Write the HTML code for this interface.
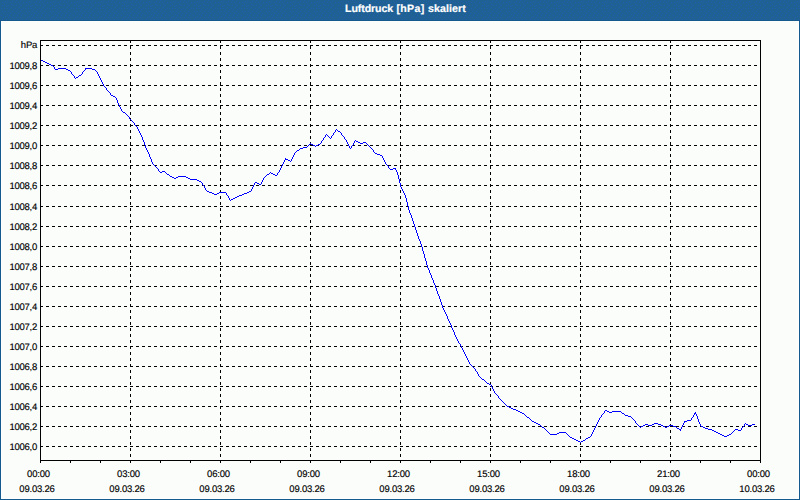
<!DOCTYPE html>
<html><head><meta charset="utf-8">
<style>
html,body{margin:0;padding:0;}
body{width:800px;height:500px;position:relative;overflow:hidden;background:#fbfdfb;font-family:"Liberation Sans",sans-serif;}
#title{position:absolute;left:0;top:0;width:800px;height:20px;background:#1e6094;}
#tline{position:absolute;left:0;top:20px;width:800px;height:1px;background:#165a8e;}
#inner{position:absolute;left:1px;top:21px;width:796px;height:477px;border:1px solid #fff;border-top:none;}
#bl{position:absolute;left:0;top:20px;width:1px;height:480px;background:#145a8e;}
#br{position:absolute;left:799px;top:20px;width:1px;height:480px;background:#145a8e;}
#bb{position:absolute;left:0;top:499px;width:800px;height:1px;background:#145a8e;}
.tt{position:absolute;top:1.5px;color:#fff;font-weight:bold;font-size:10.6px;text-rendering:geometricPrecision;-webkit-text-stroke:0.2px #fff;line-height:14px;white-space:nowrap;}
svg{position:absolute;left:0;top:0;}
.g{stroke:#000;stroke-width:1;stroke-dasharray:3 3;shape-rendering:crispEdges;}
.b{stroke:#000;stroke-width:1;fill:none;shape-rendering:crispEdges;}
.d{stroke:#0000ff;stroke-width:1;fill:none;shape-rendering:crispEdges;}
.yl{position:absolute;right:763px;letter-spacing:-0.25px;font-size:9.5px;text-rendering:geometricPrecision;-webkit-text-stroke:0.15px #000;line-height:12px;color:#000;white-space:nowrap;}
.xl{position:absolute;width:120px;letter-spacing:-0.2px;text-align:center;font-size:9.5px;text-rendering:geometricPrecision;-webkit-text-stroke:0.15px #000;line-height:12px;color:#000;white-space:nowrap;}
</style></head><body>
<div id="title"></div><div id="tline"></div>
<div id="inner"></div><div id="bl"></div><div id="br"></div><div id="bb"></div>
<svg width="800" height="500" viewBox="0 0 800 500">
<defs><pattern id="dith" width="24" height="20" patternUnits="userSpaceOnUse"><rect width="24" height="20" fill="#1e6192"/><path d="M16 0h1v1h-1zM5 1h1v1h-1zM12 1h1v1h-1zM20 1h1v1h-1zM2 2h1v1h-1zM7 2h1v1h-1zM10 2h1v1h-1zM15 2h1v1h-1zM18 2h1v1h-1zM23 2h1v1h-1zM4 4h1v1h-1zM11 4h1v1h-1zM19 4h1v1h-1zM2 5h1v1h-1zM8 5h1v1h-1zM13 5h1v1h-1zM16 5h1v1h-1zM21 5h1v1h-1zM6 6h1v1h-1zM11 7h1v1h-1zM19 7h1v1h-1zM1 8h1v1h-1zM4 8h1v1h-1zM7 8h1v1h-1zM15 8h1v1h-1zM23 8h1v1h-1zM9 9h1v1h-1zM13 9h1v1h-1zM17 9h1v1h-1zM21 9h1v1h-1zM2 11h1v1h-1zM5 11h1v1h-1zM8 11h1v1h-1zM12 11h1v1h-1zM16 11h1v1h-1zM20 11h1v1h-1zM3 13h1v1h-1zM10 13h1v1h-1zM14 13h1v1h-1zM18 13h1v1h-1zM22 13h1v1h-1zM7 14h1v1h-1zM1 15h1v1h-1zM9 15h1v1h-1zM13 15h1v1h-1zM17 15h1v1h-1zM21 15h1v1h-1zM5 16h1v1h-1zM3 17h1v1h-1zM8 17h1v1h-1zM12 17h1v1h-1zM16 17h1v1h-1zM20 17h1v1h-1zM2 19h1v1h-1zM6 19h1v1h-1zM10 19h1v1h-1zM14 19h1v1h-1zM18 19h1v1h-1zM22 19h1v1h-1z" fill="#225daf"/></pattern></defs>
<rect x="0" y="0" width="800" height="20" fill="url(#dith)" shape-rendering="crispEdges"/>
<line x1="40" y1="45.5" x2="760" y2="45.5" class="g"/>
<line x1="40" y1="65.5" x2="760" y2="65.5" class="g"/>
<line x1="40" y1="85.5" x2="760" y2="85.5" class="g"/>
<line x1="40" y1="105.5" x2="760" y2="105.5" class="g"/>
<line x1="40" y1="125.5" x2="760" y2="125.5" class="g"/>
<line x1="40" y1="145.5" x2="760" y2="145.5" class="g"/>
<line x1="40" y1="165.5" x2="760" y2="165.5" class="g"/>
<line x1="40" y1="185.5" x2="760" y2="185.5" class="g"/>
<line x1="40" y1="206.5" x2="760" y2="206.5" class="g"/>
<line x1="40" y1="226.5" x2="760" y2="226.5" class="g"/>
<line x1="40" y1="246.5" x2="760" y2="246.5" class="g"/>
<line x1="40" y1="266.5" x2="760" y2="266.5" class="g"/>
<line x1="40" y1="286.5" x2="760" y2="286.5" class="g"/>
<line x1="40" y1="306.5" x2="760" y2="306.5" class="g"/>
<line x1="40" y1="326.5" x2="760" y2="326.5" class="g"/>
<line x1="40" y1="346.5" x2="760" y2="346.5" class="g"/>
<line x1="40" y1="366.5" x2="760" y2="366.5" class="g"/>
<line x1="40" y1="386.5" x2="760" y2="386.5" class="g"/>
<line x1="40" y1="406.5" x2="760" y2="406.5" class="g"/>
<line x1="40" y1="426.5" x2="760" y2="426.5" class="g"/>
<line x1="40" y1="446.5" x2="760" y2="446.5" class="g"/>
<line x1="130.5" y1="40" x2="130.5" y2="460" class="g"/>
<line x1="220.5" y1="40" x2="220.5" y2="460" class="g"/>
<line x1="310.5" y1="40" x2="310.5" y2="460" class="g"/>
<line x1="400.5" y1="40" x2="400.5" y2="460" class="g"/>
<line x1="490.5" y1="40" x2="490.5" y2="460" class="g"/>
<line x1="580.5" y1="40" x2="580.5" y2="460" class="g"/>
<line x1="670.5" y1="40" x2="670.5" y2="460" class="g"/>
<path d="M40.5,40.5H760.5V460.5H40.5Z" class="b"/>
<path d="M40.5,460V463" class="b"/>
<path d="M70.5,460V463" class="b"/>
<path d="M100.5,460V463" class="b"/>
<path d="M130.5,460V463" class="b"/>
<path d="M160.5,460V463" class="b"/>
<path d="M190.5,460V463" class="b"/>
<path d="M220.5,460V463" class="b"/>
<path d="M250.5,460V463" class="b"/>
<path d="M280.5,460V463" class="b"/>
<path d="M310.5,460V463" class="b"/>
<path d="M340.5,460V463" class="b"/>
<path d="M370.5,460V463" class="b"/>
<path d="M400.5,460V463" class="b"/>
<path d="M430.5,460V463" class="b"/>
<path d="M460.5,460V463" class="b"/>
<path d="M490.5,460V463" class="b"/>
<path d="M520.5,460V463" class="b"/>
<path d="M550.5,460V463" class="b"/>
<path d="M580.5,460V463" class="b"/>
<path d="M610.5,460V463" class="b"/>
<path d="M640.5,460V463" class="b"/>
<path d="M670.5,460V463" class="b"/>
<path d="M700.5,460V463" class="b"/>
<path d="M730.5,460V463" class="b"/>
<path d="M760.5,460V463" class="b"/>
<path d="M41 60h2v1h-2zM43 61h2v1h-2zM45 62h2v1h-2zM47 63h2v1h-2zM49 64h2v1h-2zM51 65h2v1h-2zM53 66h1v1h-1zM54 67h1v1h-1zM54 68h1v1h-1zM58 68h8v1h-8zM85 68h7v1h-7zM55 69h3v1h-3zM66 69h2v1h-2zM85 69h1v1h-1zM92 69h3v1h-3zM68 70h2v1h-2zM84 70h1v1h-1zM95 70h1v1h-1zM70 71h1v1h-1zM83 71h1v1h-1zM96 71h1v1h-1zM71 72h1v1h-1zM82 72h1v1h-1zM97 72h1v1h-1zM71 73h1v1h-1zM82 73h1v1h-1zM97 73h1v1h-1zM72 74h1v1h-1zM81 74h1v1h-1zM98 74h1v1h-1zM73 75h1v1h-1zM79 75h2v1h-2zM98 75h1v1h-1zM74 76h1v1h-1zM78 76h1v1h-1zM99 76h1v1h-1zM74 77h1v1h-1zM76 77h2v1h-2zM99 77h1v1h-1zM75 78h1v1h-1zM100 78h1v1h-1zM100 79h1v1h-1zM101 80h1v1h-1zM101 81h1v1h-1zM102 82h1v1h-1zM102 83h1v1h-1zM103 84h1v1h-1zM103 85h1v1h-1zM104 86h1v1h-1zM105 87h1v1h-1zM106 88h1v1h-1zM106 89h1v1h-1zM107 90h1v1h-1zM108 91h1v1h-1zM109 92h1v1h-1zM110 93h1v1h-1zM110 94h1v1h-1zM111 95h2v1h-2zM113 96h2v1h-2zM115 97h1v1h-1zM116 98h1v1h-1zM116 99h1v1h-1zM117 100h1v1h-1zM117 101h1v1h-1zM117 102h1v1h-1zM118 103h1v1h-1zM118 104h1v1h-1zM119 105h1v1h-1zM119 106h1v1h-1zM120 107h1v1h-1zM120 108h1v1h-1zM121 109h1v1h-1zM121 110h1v1h-1zM122 111h1v1h-1zM123 112h2v1h-2zM125 113h1v1h-1zM126 114h1v1h-1zM127 115h1v1h-1zM128 116h1v1h-1zM129 117h1v1h-1zM129 118h1v1h-1zM130 119h1v1h-1zM131 120h1v1h-1zM132 121h1v1h-1zM133 122h1v1h-1zM134 123h1v1h-1zM134 124h1v1h-1zM135 125h1v1h-1zM136 126h1v1h-1zM137 127h1v1h-1zM137 128h1v1h-1zM138 129h1v1h-1zM336 129h1v1h-1zM138 130h1v1h-1zM335 130h1v1h-1zM337 130h1v1h-1zM139 131h1v1h-1zM335 131h1v1h-1zM338 131h2v1h-2zM139 132h1v1h-1zM334 132h1v1h-1zM340 132h1v1h-1zM140 133h1v1h-1zM333 133h1v1h-1zM341 133h1v1h-1zM140 134h1v1h-1zM326 134h1v1h-1zM333 134h1v1h-1zM341 134h1v1h-1zM141 135h1v1h-1zM325 135h1v1h-1zM327 135h1v1h-1zM332 135h1v1h-1zM342 135h1v1h-1zM141 136h1v1h-1zM325 136h1v1h-1zM328 136h1v1h-1zM331 136h1v1h-1zM343 136h1v1h-1zM142 137h1v1h-1zM324 137h1v1h-1zM329 137h1v1h-1zM331 137h1v1h-1zM344 137h1v1h-1zM142 138h1v1h-1zM323 138h1v1h-1zM330 138h1v1h-1zM344 138h1v1h-1zM142 139h1v1h-1zM323 139h1v1h-1zM345 139h1v1h-1zM143 140h1v1h-1zM322 140h1v1h-1zM346 140h1v1h-1zM355 140h1v1h-1zM143 141h1v1h-1zM321 141h1v1h-1zM346 141h1v1h-1zM354 141h1v1h-1zM356 141h2v1h-2zM144 142h1v1h-1zM321 142h1v1h-1zM347 142h1v1h-1zM354 142h1v1h-1zM358 142h2v1h-2zM363 142h3v1h-3zM144 143h1v1h-1zM310 143h1v1h-1zM320 143h1v1h-1zM347 143h1v1h-1zM353 143h1v1h-1zM360 143h3v1h-3zM366 143h1v1h-1zM144 144h1v1h-1zM309 144h1v1h-1zM311 144h2v1h-2zM318 144h2v1h-2zM348 144h1v1h-1zM353 144h1v1h-1zM367 144h1v1h-1zM145 145h1v1h-1zM308 145h1v1h-1zM313 145h2v1h-2zM316 145h2v1h-2zM348 145h1v1h-1zM352 145h1v1h-1zM368 145h1v1h-1zM145 146h1v1h-1zM307 146h1v1h-1zM315 146h1v1h-1zM349 146h1v1h-1zM351 146h1v1h-1zM369 146h1v1h-1zM145 147h1v1h-1zM303 147h4v1h-4zM349 147h1v1h-1zM351 147h1v1h-1zM370 147h1v1h-1zM146 148h1v1h-1zM300 148h3v1h-3zM350 148h1v1h-1zM371 148h1v1h-1zM146 149h1v1h-1zM299 149h1v1h-1zM372 149h1v1h-1zM147 150h1v1h-1zM297 150h2v1h-2zM373 150h1v1h-1zM147 151h1v1h-1zM296 151h1v1h-1zM373 151h1v1h-1zM148 152h1v1h-1zM295 152h1v1h-1zM374 152h1v1h-1zM148 153h1v1h-1zM294 153h1v1h-1zM375 153h2v1h-2zM149 154h1v1h-1zM294 154h1v1h-1zM377 154h3v1h-3zM149 155h1v1h-1zM293 155h1v1h-1zM380 155h2v1h-2zM149 156h1v1h-1zM293 156h1v1h-1zM382 156h1v1h-1zM150 157h1v1h-1zM292 157h1v1h-1zM382 157h1v1h-1zM150 158h1v1h-1zM285 158h1v1h-1zM292 158h1v1h-1zM383 158h1v1h-1zM151 159h1v1h-1zM285 159h3v1h-3zM291 159h1v1h-1zM383 159h1v1h-1zM151 160h1v1h-1zM284 160h1v1h-1zM288 160h2v1h-2zM291 160h1v1h-1zM384 160h1v1h-1zM151 161h1v1h-1zM284 161h1v1h-1zM290 161h1v1h-1zM384 161h1v1h-1zM152 162h1v1h-1zM283 162h1v1h-1zM385 162h1v1h-1zM152 163h1v1h-1zM283 163h1v1h-1zM385 163h1v1h-1zM153 164h1v1h-1zM282 164h1v1h-1zM386 164h1v1h-1zM154 165h1v1h-1zM282 165h1v1h-1zM387 165h1v1h-1zM155 166h1v1h-1zM281 166h1v1h-1zM388 166h1v1h-1zM156 167h1v1h-1zM281 167h1v1h-1zM388 167h1v1h-1zM157 168h1v1h-1zM280 168h1v1h-1zM389 168h1v1h-1zM393 168h3v1h-3zM158 169h1v1h-1zM280 169h1v1h-1zM390 169h3v1h-3zM395 169h1v1h-1zM158 170h1v1h-1zM279 170h1v1h-1zM396 170h1v1h-1zM159 171h1v1h-1zM162 171h3v1h-3zM279 171h1v1h-1zM396 171h1v1h-1zM160 172h2v1h-2zM165 172h1v1h-1zM270 172h1v1h-1zM278 172h1v1h-1zM397 172h1v1h-1zM166 173h1v1h-1zM269 173h1v1h-1zM271 173h2v1h-2zM277 173h1v1h-1zM397 173h1v1h-1zM167 174h2v1h-2zM267 174h2v1h-2zM273 174h2v1h-2zM277 174h1v1h-1zM397 174h1v1h-1zM169 175h1v1h-1zM266 175h1v1h-1zM275 175h2v1h-2zM398 175h1v1h-1zM170 176h2v1h-2zM178 176h8v1h-8zM265 176h1v1h-1zM398 176h1v1h-1zM172 177h2v1h-2zM176 177h2v1h-2zM186 177h2v1h-2zM264 177h1v1h-1zM398 177h1v1h-1zM174 178h2v1h-2zM188 178h2v1h-2zM263 178h1v1h-1zM398 178h1v1h-1zM190 179h7v1h-7zM263 179h1v1h-1zM399 179h1v1h-1zM197 180h2v1h-2zM262 180h1v1h-1zM399 180h1v1h-1zM199 181h2v1h-2zM262 181h1v1h-1zM399 181h1v1h-1zM201 182h1v1h-1zM255 182h2v1h-2zM261 182h1v1h-1zM399 182h1v1h-1zM202 183h1v1h-1zM254 183h1v1h-1zM257 183h2v1h-2zM261 183h1v1h-1zM400 183h1v1h-1zM202 184h1v1h-1zM254 184h1v1h-1zM259 184h2v1h-2zM400 184h1v1h-1zM203 185h1v1h-1zM253 185h1v1h-1zM400 185h1v1h-1zM204 186h1v1h-1zM253 186h1v1h-1zM400 186h1v1h-1zM204 187h1v1h-1zM252 187h1v1h-1zM401 187h1v1h-1zM205 188h1v1h-1zM252 188h1v1h-1zM401 188h1v1h-1zM205 189h1v1h-1zM251 189h1v1h-1zM402 189h1v1h-1zM206 190h1v1h-1zM251 190h1v1h-1zM402 190h1v1h-1zM207 191h2v1h-2zM249 191h2v1h-2zM403 191h1v1h-1zM209 192h3v1h-3zM219 192h7v1h-7zM247 192h2v1h-2zM403 192h1v1h-1zM212 193h2v1h-2zM217 193h2v1h-2zM226 193h1v1h-1zM244 193h3v1h-3zM404 193h1v1h-1zM214 194h3v1h-3zM226 194h1v1h-1zM242 194h2v1h-2zM404 194h1v1h-1zM227 195h1v1h-1zM239 195h3v1h-3zM405 195h1v1h-1zM228 196h1v1h-1zM237 196h2v1h-2zM405 196h1v1h-1zM228 197h1v1h-1zM235 197h2v1h-2zM405 197h1v1h-1zM229 198h1v1h-1zM233 198h2v1h-2zM406 198h1v1h-1zM229 199h1v1h-1zM231 199h2v1h-2zM406 199h1v1h-1zM230 200h1v1h-1zM406 200h1v1h-1zM406 201h1v1h-1zM407 202h1v1h-1zM407 203h1v1h-1zM407 204h1v1h-1zM407 205h1v1h-1zM408 206h1v1h-1zM408 207h1v1h-1zM408 208h1v1h-1zM408 209h1v1h-1zM409 210h1v1h-1zM409 211h1v1h-1zM409 212h1v1h-1zM410 213h1v1h-1zM410 214h1v1h-1zM411 215h1v1h-1zM411 216h1v1h-1zM411 217h1v1h-1zM412 218h1v1h-1zM412 219h1v1h-1zM412 220h1v1h-1zM413 221h1v1h-1zM413 222h1v1h-1zM413 223h1v1h-1zM414 224h1v1h-1zM414 225h1v1h-1zM414 226h1v1h-1zM415 227h1v1h-1zM415 228h1v1h-1zM415 229h1v1h-1zM416 230h1v1h-1zM416 231h1v1h-1zM416 232h1v1h-1zM417 233h1v1h-1zM417 234h1v1h-1zM417 235h1v1h-1zM418 236h1v1h-1zM418 237h1v1h-1zM418 238h1v1h-1zM419 239h1v1h-1zM419 240h1v1h-1zM420 241h1v1h-1zM420 242h1v1h-1zM420 243h1v1h-1zM421 244h1v1h-1zM421 245h1v1h-1zM421 246h1v1h-1zM422 247h1v1h-1zM422 248h1v1h-1zM422 249h1v1h-1zM422 250h1v1h-1zM423 251h1v1h-1zM423 252h1v1h-1zM423 253h1v1h-1zM424 254h1v1h-1zM424 255h1v1h-1zM424 256h1v1h-1zM424 257h1v1h-1zM425 258h1v1h-1zM425 259h1v1h-1zM425 260h1v1h-1zM426 261h1v1h-1zM426 262h1v1h-1zM426 263h1v1h-1zM426 264h1v1h-1zM427 265h1v1h-1zM427 266h1v1h-1zM427 267h1v1h-1zM428 268h1v1h-1zM428 269h1v1h-1zM429 270h1v1h-1zM429 271h1v1h-1zM429 272h1v1h-1zM430 273h1v1h-1zM430 274h1v1h-1zM431 275h1v1h-1zM431 276h1v1h-1zM431 277h1v1h-1zM432 278h1v1h-1zM432 279h1v1h-1zM433 280h1v1h-1zM433 281h1v1h-1zM433 282h1v1h-1zM434 283h1v1h-1zM434 284h1v1h-1zM435 285h1v1h-1zM435 286h1v1h-1zM435 287h1v1h-1zM436 288h1v1h-1zM436 289h1v1h-1zM436 290h1v1h-1zM437 291h1v1h-1zM437 292h1v1h-1zM437 293h1v1h-1zM438 294h1v1h-1zM438 295h1v1h-1zM439 296h1v1h-1zM439 297h1v1h-1zM439 298h1v1h-1zM440 299h1v1h-1zM440 300h1v1h-1zM440 301h1v1h-1zM441 302h1v1h-1zM441 303h1v1h-1zM441 304h1v1h-1zM442 305h1v1h-1zM442 306h1v1h-1zM442 307h1v1h-1zM443 308h1v1h-1zM443 309h1v1h-1zM444 310h1v1h-1zM444 311h1v1h-1zM445 312h1v1h-1zM445 313h1v1h-1zM446 314h1v1h-1zM446 315h1v1h-1zM447 316h1v1h-1zM447 317h1v1h-1zM447 318h1v1h-1zM448 319h1v1h-1zM448 320h1v1h-1zM449 321h1v1h-1zM449 322h1v1h-1zM450 323h1v1h-1zM450 324h1v1h-1zM451 325h1v1h-1zM451 326h1v1h-1zM451 327h1v1h-1zM452 328h1v1h-1zM452 329h1v1h-1zM453 330h1v1h-1zM453 331h1v1h-1zM454 332h1v1h-1zM454 333h1v1h-1zM454 334h1v1h-1zM455 335h1v1h-1zM455 336h1v1h-1zM456 337h1v1h-1zM456 338h1v1h-1zM457 339h1v1h-1zM457 340h1v1h-1zM458 341h1v1h-1zM458 342h1v1h-1zM459 343h1v1h-1zM460 344h1v1h-1zM460 345h1v1h-1zM461 346h1v1h-1zM461 347h1v1h-1zM462 348h1v1h-1zM462 349h1v1h-1zM463 350h1v1h-1zM463 351h1v1h-1zM464 352h1v1h-1zM464 353h1v1h-1zM465 354h1v1h-1zM465 355h1v1h-1zM466 356h1v1h-1zM466 357h1v1h-1zM467 358h1v1h-1zM467 359h1v1h-1zM468 360h1v1h-1zM468 361h1v1h-1zM469 362h1v1h-1zM469 363h1v1h-1zM470 364h1v1h-1zM471 365h1v1h-1zM472 366h1v1h-1zM473 367h1v1h-1zM474 368h1v1h-1zM475 369h1v1h-1zM475 370h1v1h-1zM476 371h1v1h-1zM477 372h1v1h-1zM477 373h1v1h-1zM478 374h1v1h-1zM478 375h1v1h-1zM479 376h1v1h-1zM480 377h1v1h-1zM481 378h1v1h-1zM482 379h2v1h-2zM484 380h1v1h-1zM485 381h1v1h-1zM486 382h1v1h-1zM487 383h2v1h-2zM489 384h2v1h-2zM491 385h1v1h-1zM491 386h1v1h-1zM492 387h1v1h-1zM492 388h1v1h-1zM493 389h1v1h-1zM493 390h1v1h-1zM494 391h1v1h-1zM494 392h1v1h-1zM495 393h1v1h-1zM496 394h1v1h-1zM497 395h1v1h-1zM498 396h1v1h-1zM498 397h1v1h-1zM499 398h1v1h-1zM500 399h1v1h-1zM501 400h1v1h-1zM502 401h1v1h-1zM503 402h1v1h-1zM504 403h1v1h-1zM505 404h1v1h-1zM506 405h1v1h-1zM507 406h2v1h-2zM509 407h2v1h-2zM511 408h2v1h-2zM513 409h3v1h-3zM516 410h2v1h-2zM605 410h2v1h-2zM518 411h2v1h-2zM604 411h1v1h-1zM607 411h2v1h-2zM612 411h9v1h-9zM520 412h2v1h-2zM604 412h1v1h-1zM609 412h3v1h-3zM621 412h1v1h-1zM695 412h1v1h-1zM522 413h2v1h-2zM603 413h1v1h-1zM622 413h2v1h-2zM694 413h2v1h-2zM524 414h1v1h-1zM602 414h1v1h-1zM624 414h1v1h-1zM694 414h1v1h-1zM696 414h1v1h-1zM525 415h1v1h-1zM601 415h1v1h-1zM625 415h3v1h-3zM693 415h1v1h-1zM696 415h1v1h-1zM526 416h1v1h-1zM601 416h1v1h-1zM628 416h3v1h-3zM693 416h1v1h-1zM697 416h1v1h-1zM527 417h2v1h-2zM600 417h1v1h-1zM631 417h1v1h-1zM692 417h1v1h-1zM697 417h1v1h-1zM529 418h1v1h-1zM599 418h1v1h-1zM632 418h1v1h-1zM691 418h1v1h-1zM697 418h1v1h-1zM530 419h1v1h-1zM599 419h1v1h-1zM633 419h1v1h-1zM691 419h1v1h-1zM698 419h1v1h-1zM531 420h1v1h-1zM598 420h1v1h-1zM634 420h1v1h-1zM687 420h4v1h-4zM698 420h1v1h-1zM532 421h2v1h-2zM598 421h1v1h-1zM635 421h1v1h-1zM684 421h3v1h-3zM698 421h1v1h-1zM534 422h2v1h-2zM597 422h1v1h-1zM635 422h1v1h-1zM684 422h1v1h-1zM699 422h1v1h-1zM536 423h2v1h-2zM597 423h1v1h-1zM636 423h1v1h-1zM654 423h4v1h-4zM683 423h1v1h-1zM699 423h1v1h-1zM745 423h1v1h-1zM538 424h2v1h-2zM596 424h1v1h-1zM637 424h1v1h-1zM645 424h3v1h-3zM652 424h2v1h-2zM658 424h3v1h-3zM683 424h1v1h-1zM700 424h1v1h-1zM744 424h1v1h-1zM746 424h2v1h-2zM752 424h3v1h-3zM540 425h1v1h-1zM596 425h1v1h-1zM638 425h1v1h-1zM643 425h2v1h-2zM648 425h4v1h-4zM661 425h2v1h-2zM669 425h4v1h-4zM682 425h1v1h-1zM700 425h1v1h-1zM744 425h1v1h-1zM748 425h4v1h-4zM541 426h1v1h-1zM595 426h1v1h-1zM639 426h1v1h-1zM641 426h2v1h-2zM663 426h2v1h-2zM667 426h2v1h-2zM673 426h3v1h-3zM682 426h1v1h-1zM701 426h2v1h-2zM743 426h1v1h-1zM542 427h2v1h-2zM595 427h1v1h-1zM640 427h1v1h-1zM665 427h2v1h-2zM676 427h1v1h-1zM681 427h1v1h-1zM703 427h2v1h-2zM742 427h1v1h-1zM544 428h1v1h-1zM594 428h1v1h-1zM677 428h2v1h-2zM681 428h1v1h-1zM705 428h3v1h-3zM741 428h1v1h-1zM545 429h1v1h-1zM594 429h1v1h-1zM679 429h2v1h-2zM708 429h4v1h-4zM735 429h3v1h-3zM741 429h1v1h-1zM546 430h1v1h-1zM593 430h1v1h-1zM680 430h1v1h-1zM712 430h2v1h-2zM734 430h1v1h-1zM738 430h3v1h-3zM547 431h1v1h-1zM593 431h1v1h-1zM714 431h2v1h-2zM733 431h1v1h-1zM548 432h1v1h-1zM559 432h7v1h-7zM592 432h1v1h-1zM716 432h2v1h-2zM732 432h1v1h-1zM549 433h1v1h-1zM557 433h2v1h-2zM566 433h1v1h-1zM592 433h1v1h-1zM718 433h2v1h-2zM731 433h1v1h-1zM550 434h7v1h-7zM567 434h1v1h-1zM591 434h1v1h-1zM720 434h2v1h-2zM729 434h2v1h-2zM568 435h1v1h-1zM591 435h1v1h-1zM722 435h2v1h-2zM727 435h2v1h-2zM569 436h1v1h-1zM590 436h1v1h-1zM724 436h3v1h-3zM570 437h2v1h-2zM588 437h2v1h-2zM572 438h2v1h-2zM586 438h2v1h-2zM574 439h2v1h-2zM585 439h1v1h-1zM576 440h2v1h-2zM583 440h2v1h-2zM578 441h2v1h-2zM581 441h2v1h-2zM580 442h1v1h-1z" fill="#0000ff" shape-rendering="crispEdges"/>
</svg>
<div class="yl" style="top:40px">hPa</div>
<div class="yl" style="top:61px">1009,8</div>
<div class="yl" style="top:81px">1009,6</div>
<div class="yl" style="top:101px">1009,4</div>
<div class="yl" style="top:121px">1009,2</div>
<div class="yl" style="top:141px">1009,0</div>
<div class="yl" style="top:161px">1008,8</div>
<div class="yl" style="top:181px">1008,6</div>
<div class="yl" style="top:202px">1008,4</div>
<div class="yl" style="top:222px">1008,2</div>
<div class="yl" style="top:242px">1008,0</div>
<div class="yl" style="top:262px">1007,8</div>
<div class="yl" style="top:282px">1007,6</div>
<div class="yl" style="top:302px">1007,4</div>
<div class="yl" style="top:322px">1007,2</div>
<div class="yl" style="top:342px">1007,0</div>
<div class="yl" style="top:362px">1006,8</div>
<div class="yl" style="top:382px">1006,6</div>
<div class="yl" style="top:402px">1006,4</div>
<div class="yl" style="top:422px">1006,2</div>
<div class="yl" style="top:442px">1006,0</div>
<div class="xl" style="left:-21.5px;top:468.5px">00:00</div>
<div class="xl" style="left:-23px;top:483.5px">09.03.26</div>
<div class="xl" style="left:68.5px;top:468.5px">03:00</div>
<div class="xl" style="left:67px;top:483.5px">09.03.26</div>
<div class="xl" style="left:158.5px;top:468.5px">06:00</div>
<div class="xl" style="left:157px;top:483.5px">09.03.26</div>
<div class="xl" style="left:248.5px;top:468.5px">09:00</div>
<div class="xl" style="left:247px;top:483.5px">09.03.26</div>
<div class="xl" style="left:338.5px;top:468.5px">12:00</div>
<div class="xl" style="left:337px;top:483.5px">09.03.26</div>
<div class="xl" style="left:428.5px;top:468.5px">15:00</div>
<div class="xl" style="left:427px;top:483.5px">09.03.26</div>
<div class="xl" style="left:518.5px;top:468.5px">18:00</div>
<div class="xl" style="left:517px;top:483.5px">09.03.26</div>
<div class="xl" style="left:608.5px;top:468.5px">21:00</div>
<div class="xl" style="left:607px;top:483.5px">09.03.26</div>
<div class="xl" style="left:698.5px;top:468.5px">00:00</div>
<div class="xl" style="left:697px;top:483.5px">10.03.26</div>
<div class="tt" style="left:345px;letter-spacing:-0.08px">Luftdruck</div><div class="tt" style="left:396.5px;letter-spacing:0.3px">[hPa]</div><div class="tt" style="left:428px;letter-spacing:0.1px">skaliert</div>
</body></html>
